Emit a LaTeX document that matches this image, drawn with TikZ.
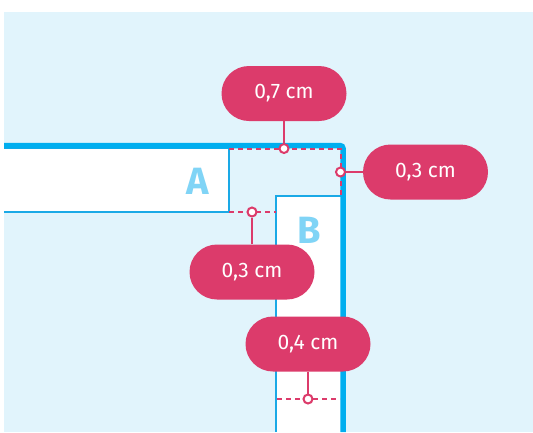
\documentclass[tikz,border=0pt]{standalone}
\usepackage{fontspec}
\setmainfont{Fira Sans}
\usetikzlibrary{positioning}
\definecolor{bgblue}{HTML}{E1F4FC}
\definecolor{edgeblue}{HTML}{00AEEF}
\definecolor{thinblue}{HTML}{1AA9E6}
\definecolor{letterblue}{HTML}{80D4F6}
\definecolor{pillred}{HTML}{DC3B6B}

\begin{document}
\begin{tikzpicture}[x=1pt,y=-1pt,node distance=55pt,on grid,
   pill/.style={rectangle,rounded corners=27.5pt,fill=pillred,text=white,minimum width=125pt,
      minimum height=55pt,font=\fontsize{21}{24}\selectfont},
   ring/.style={circle,draw=pillred,fill=white,line width=2pt,minimum size=9pt,inner sep=0pt},
   gap/.style={draw=pillred,line width=2pt,dash pattern=on 5pt off 4pt},
   letter/.style={text=letterblue,font=\bfseries\fontsize{38}{38}\selectfont}]
   \useasboundingbox (0,0) rectangle (533,432);
   \fill[bgblue] (4,12) rectangle (533,432);
   % boxes A and B
   \fill[white] (4,148) rectangle (229,212);
   \draw[thinblue,line width=1.4pt] (4,148) -- (229,148) -- (229,212) -- (4,212);
   \fill[white] (276,196) rectangle (341,432);
   \draw[thinblue,line width=1.4pt] (276,432) -- (276,196) -- (341,196);
   \node[letter] (A) at (198,181) {A};
   \node[letter] (B) at (309,230) {B};
   % page edge
   \draw[edgeblue,line width=5.5pt,rounded corners=3pt] (4,145.5) -- (343,145.5) -- (343,432);
   % margins
   \draw[gap] (229,148.5) -- (340.5,148.5) -- (340.5,196);
   \draw[gap] (229,212) -- (276,212);
   \draw[gap] (277,399) -- (340,399);
   \node[ring] (c1) at (284,148.5) {};
   \node[ring] (c2) at (340.5,172) {};
   \node[ring] (c3) at (252,212) {};
   \node[ring] (c4) at (308,399) {};
   \node[pill] (top)   [above=55pt of c1] {0,7 cm};
   \node[pill] (right) [right=85pt of c2] {0,3 cm};
   \node[pill] (low)   [below=60pt of c3] {0,3 cm};
   \node[pill] (foot)  [above=55pt of c4] {0,4 cm};
   \path[draw=pillred,line width=2pt]
   (top)   edge (c1)
   (right) edge (c2)
   (low)   edge (c3)
   (foot)  edge (c4);
\end{tikzpicture}
\end{document}
